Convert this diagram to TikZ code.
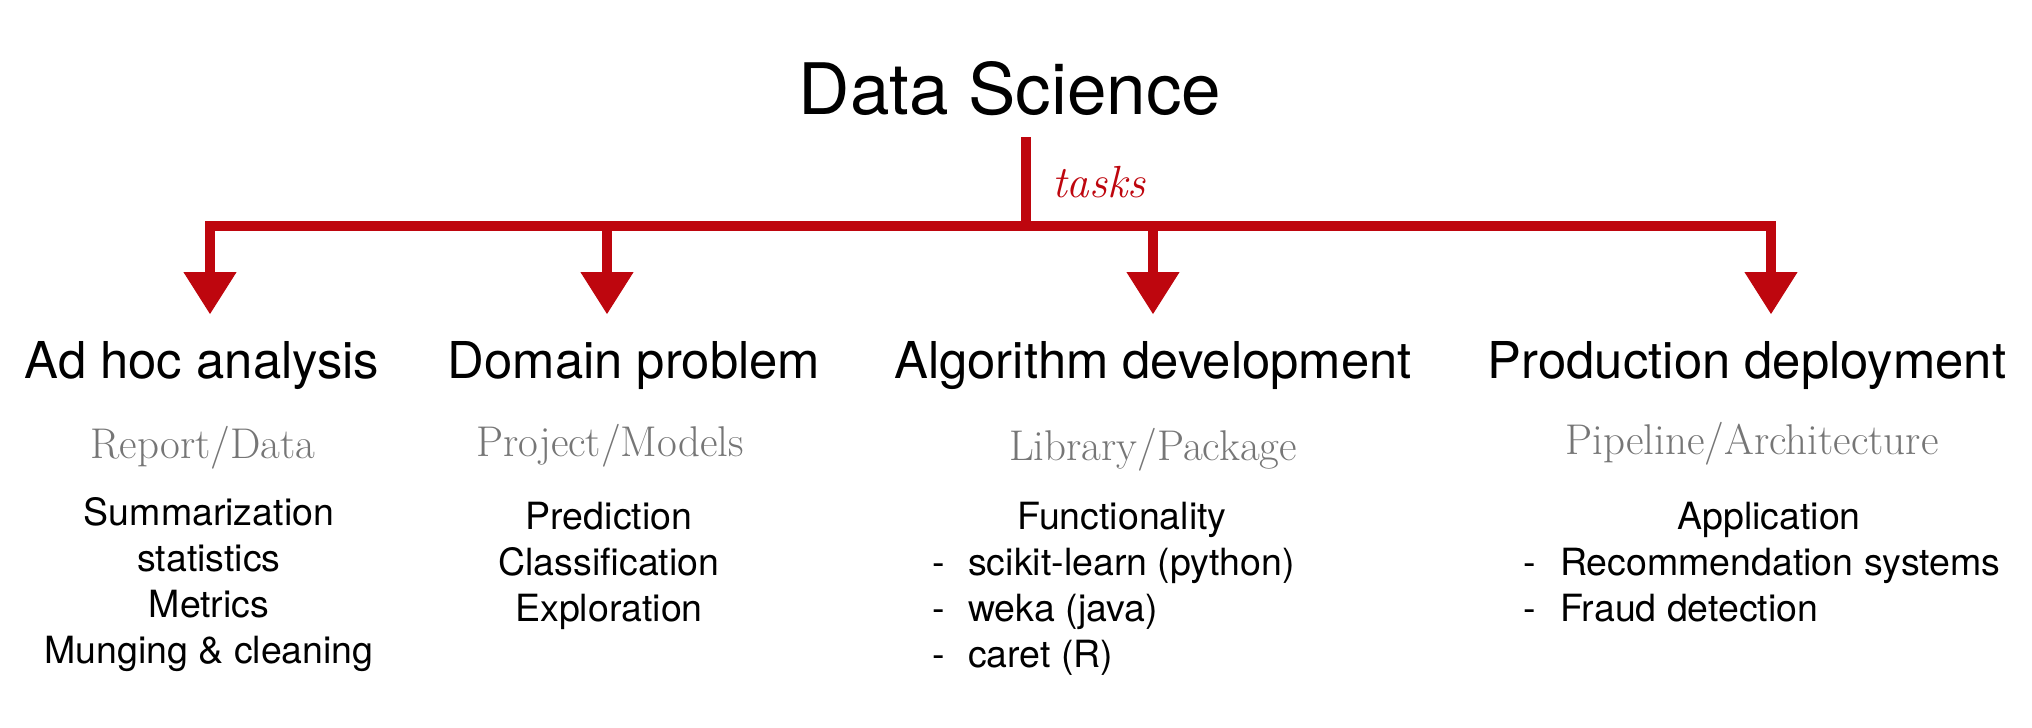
\documentclass[tikz,border=0pt]{standalone}
\usepackage{fontspec}
\setsansfont{TeX Gyre Heros}
\usetikzlibrary{arrows.meta}
\definecolor{chalk}{RGB}{190,6,14}
\definecolor{subgray}{RGB}{118,118,118}
\begin{document}
\begin{tikzpicture}[x=1pt,y=-1pt,
  titletext/.style={font=\sffamily\fontsize{71}{80}\selectfont, anchor=base, inner sep=0pt},
  heading/.style={font=\sffamily\fontsize{50.8}{60}\selectfont, anchor=base, inner sep=0pt},
  subtitle/.style={font=\rmfamily\fontsize{43}{50}\selectfont, text=subgray, anchor=base, inner sep=0pt},
  body/.style={font=\sffamily\fontsize{37.5}{46}\selectfont, anchor=base, inner sep=0pt},
  item/.style={body, anchor=base west},
  bar/.style={draw=chalk, line width=10pt},
  tipline/.style={bar, -{Triangle[width=53pt,length=42pt,line width=1pt]}},
  ]
\useasboundingbox (0,0) rectangle (2032,728);

% title
\node[titletext] (title) at (1010,114) {Data Science};

% connectors
\coordinate (top) at (1026,137);
\coordinate (hub) at (1026,226);
\coordinate (bar2) at (607,226);
\coordinate (bar3) at (1153,226);
\coordinate (tip1) at (210,314);
\coordinate (tip2) at (607,314);
\coordinate (tip3) at (1153,314);
\coordinate (tip4) at (1771,314);
\draw[bar] (top) -- (hub);
\draw[tipline] (hub) -| (tip1);
\draw[tipline] (hub) -| (tip4);
\draw[tipline] (bar2) -- (tip2);
\draw[tipline] (bar3) -- (tip3);
\node[anchor=base west, inner sep=0pt, text=chalk, font=\rmfamily\itshape\fontsize{45}{50}\selectfont] (tasks) at (1052,197) {tasks};

% headings
\node[heading] (h1) at (202,378) {Ad hoc analysis};
\node[heading] (h2) at (634,378) {Domain problem};
\node[heading] (h3) at (1153,378) {Algorithm development};
\node[heading] (h4) at (1747,378) {Production deployment};

% subtitles
\node[subtitle] (s1) at (203,458) {Report/Data};
\node[subtitle] (s2) at (610,456) {Project/Models};
\node[subtitle] (s3) at (1153,460) {Library/Package};
\node[subtitle] (s4) at (1752,454) {Pipeline/Architecture};

% column 1
\node[body] (c1a) at (209,525) {Summarization};
\node[body] (c1b) at (209,571) {statistics};
\node[body] (c1c) at (209,617) {Metrics};
\node[body] (c1d) at (209,663) {Munging \& cleaning};

% column 2
\node[body] (c2a) at (609,529) {Prediction};
\node[body] (c2b) at (609,575) {Classification};
\node[body] (c2c) at (609,621) {Exploration};

% column 3
\node[body] (c3a) at (1122,529) {Functionality};
\node[item] (d3b) at (932,575) {-};
\node[item] (c3b) at (968,575) {scikit-learn (python)};
\node[item] (d3c) at (932,621) {-};
\node[item] (c3c) at (968,621) {weka (java)};
\node[item] (d3d) at (932,667) {-};
\node[item] (c3d) at (968,667) {caret (R)};

% column 4
\node[body] (c4a) at (1769,529) {Application};
\node[item] (d4b) at (1523,575) {-};
\node[item] (c4b) at (1560,575) {Recommendation systems};
\node[item] (d4c) at (1523,621) {-};
\node[item] (c4c) at (1560,621) {Fraud detection};
\end{tikzpicture}
\end{document}
